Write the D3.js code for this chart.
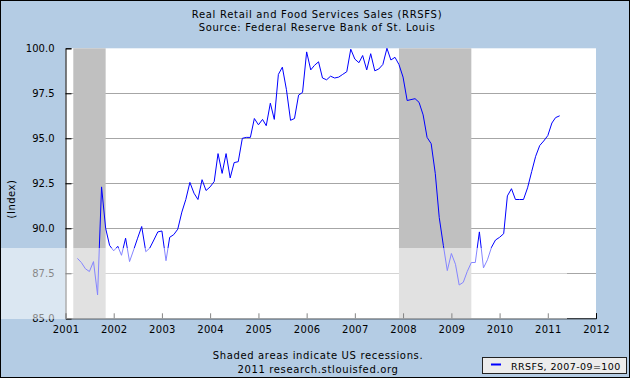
<!DOCTYPE html>
<html>
<head>
<meta charset="utf-8">
<script src="https://cdnjs.cloudflare.com/ajax/libs/d3/7.8.5/d3.min.js"></script>
<style>
  html, body { margin: 0; padding: 0; background: #fff; }
  svg { display: block; }
  text { font-family: "DejaVu Sans", Verdana, sans-serif; fill: #000; }
</style>
</head>
<body>
<svg id="chart" width="630" height="378"></svg>
<script>
// ---- data (monthly, 2001-04 .. 2011-04) ----
const startMonth = "2001-04";
const values = [
  88.33, 88.1, 87.75, 87.6, 88.15, 86.3, 92.3, 90.0, 89.05,          // 2001 Apr-Dec
  88.75, 89.0, 88.5, 89.45, 88.15, 88.8, 89.45, 90.1, 88.7, 88.9, 89.35, 89.8, // 2002
  89.85, 88.2, 89.5, 89.65, 89.95, 90.9, 91.6, 92.55, 91.95, 91.6, 92.7, 92.1, // 2003
  92.3, 92.6, 94.15, 93.05, 94.15, 92.8, 93.65, 93.7, 95.0, 95.05, 95.05, 96.1, // 2004
  95.75, 96.05, 95.7, 96.95, 96.05, 98.55, 98.95, 97.7, 96.0, 96.1, 97.4, 97.55, // 2005
  99.8, 98.8, 99.05, 99.25, 98.35, 98.25, 98.45, 98.35, 98.4, 98.55, 98.7, 99.95, // 2006
  99.4, 99.2, 99.6, 98.8, 99.7, 98.75, 98.85, 99.1, 100.0, 99.35, 99.5, 99.1, // 2007
  98.4, 97.1, 97.15, 97.2, 97.0, 96.3, 95.05, 94.7, 93.05, 90.6, 89.05, 87.65, // 2008
  88.6, 88.0, 86.85, 87.0, 87.6, 88.1, 88.1, 89.8, 87.8, 88.25, 88.95, 89.35, // 2009
  89.5, 89.7, 91.8, 92.2, 91.6, 91.6, 91.6, 92.25, 93.15, 94.0, 94.6, 94.85, // 2010
  95.15, 95.85, 96.15, 96.25                                          // 2011 Jan-Apr
];
const recessions = [["2001-03-01", "2001-11-01"], ["2007-12-01", "2009-06-01"]];
const yTicks = [85, 87.5, 90, 92.5, 95, 97.5, 100];
const gridValues = [87.5, 90, 92.5, 95, 97.5];
const xTickYears = [2001, 2002, 2003, 2004, 2005, 2006, 2007, 2008, 2009, 2010, 2011, 2012];
const titleLines = ["Real Retail and Food Services Sales (RRSFS)", "Source: Federal Reserve Bank of St. Louis"];
const footerLines = ["Shaded areas indicate US recessions.", "2011 research.stlouisfed.org"];
const legendLabel = "RRSFS, 2007-09=100";
const yLabel = "(Index)";

// ---- build ----
const parseMonth = d3.timeParse("%Y-%m");
const parseDay = d3.timeParse("%Y-%m-%d");
const t0 = parseMonth(startMonth);
const series = values.map((v, i) => ({ date: d3.timeMonth.offset(t0, i), value: v }));

const W = 630, H = 378;
const L = 65.5, R = 596, T = 48.3, B = 318.3;

const svg = d3.select("#chart");
const x = d3.scaleTime().domain([new Date(2001, 0, 1), new Date(2012, 0, 1)]).range([L, R]);
const y = d3.scaleLinear().domain([85, 100]).range([B, T]);

// background
svg.append("rect").attr("x", 0).attr("y", 0).attr("width", W).attr("height", H).attr("fill", "#b4cce4");
// plot area
svg.append("rect").attr("x", L).attr("y", T).attr("width", R - L).attr("height", B - T).attr("fill", "#ffffff");

// gridlines
svg.append("g").selectAll("line").data(gridValues).join("line")
  .attr("x1", L).attr("x2", R)
  .attr("y1", d => Math.round(y(d)) + 0.5).attr("y2", d => Math.round(y(d)) + 0.5)
  .attr("stroke", "#a6a6a6").attr("stroke-width", 1);

// recessions
svg.append("g").selectAll("rect").data(recessions).join("rect")
  .attr("x", d => x(parseDay(d[0])))
  .attr("width", d => x(parseDay(d[1])) - x(parseDay(d[0])))
  .attr("y", T).attr("height", B - T)
  .attr("fill", "#c0c0c0");

// line
const line = d3.line().x(d => x(d.date)).y(d => y(d.value));
svg.append("path").datum(series)
  .attr("d", line)
  .attr("fill", "none").attr("stroke", "#0000ff").attr("stroke-width", 1)
  .attr("stroke-linejoin", "round");

// y axis
const yAxis = d3.axisLeft(y).tickValues(yTicks).tickSize(-6).tickPadding(11).tickFormat(d3.format(".1f"));
const gy = svg.append("g").attr("transform", `translate(${L},0)`).call(yAxis);
gy.select(".domain").attr("stroke", "#000");
gy.selectAll(".tick line").attr("stroke", "#000");
gy.selectAll("text").attr("font-size", 10).attr("font-family", "DejaVu Sans").attr("fill", "#000");

// x axis
const xAxis = d3.axisBottom(x).tickValues(xTickYears.map(yr => new Date(yr, 0, 1)))
  .tickSize(-5).tickPadding(8).tickFormat(d3.timeFormat("%Y"));
const gx = svg.append("g").attr("transform", `translate(0,${B})`).call(xAxis);
gx.select(".domain").attr("stroke", "#000");
gx.selectAll(".tick line").attr("stroke", "#000");
gx.selectAll("text").attr("font-size", 10).attr("font-family", "DejaVu Sans").attr("fill", "#000")
  .attr("letter-spacing", 0.3);

// watermark-like light band
svg.append("rect").attr("x", 0).attr("y", 248).attr("width", 567).attr("height", 71)
  .attr("fill", "#ffffff").attr("fill-opacity", 0.52);

// titles
svg.append("g").selectAll("text").data(titleLines).join("text")
  .attr("x", 317).attr("y", (d, i) => 18 + i * 13)
  .attr("text-anchor", "middle").attr("font-size", 10).attr("letter-spacing", 0.7).text(d => d);

// y label
svg.append("text").attr("transform", "translate(15,199) rotate(-90)")
  .attr("text-anchor", "middle").attr("font-size", 10).attr("letter-spacing", 0.5).text(yLabel);

// footer
svg.append("g").selectAll("text").data(footerLines).join("text")
  .attr("x", 318).attr("y", (d, i) => 359 + i * 14)
  .attr("text-anchor", "middle").attr("font-size", 10).attr("letter-spacing", 0.65).text(d => d);

// legend
const lg = svg.append("g");
lg.append("rect").attr("x", 482.5).attr("y", 357.5).attr("width", 144).attr("height", 16)
  .attr("fill", "#ececec").attr("stroke", "#222").attr("stroke-width", 1);
lg.append("line").attr("x1", 491).attr("x2", 501).attr("y1", 364.5).attr("y2", 364.5)
  .attr("stroke", "#0000ff").attr("stroke-width", 2);
lg.append("text").attr("x", 511).attr("y", 369.5).attr("font-size", 9.5)
  .attr("letter-spacing", 0.4).text(legendLabel);

// frame
svg.append("rect").attr("x", 0.5).attr("y", 0.5).attr("width", W - 1).attr("height", H - 1)
  .attr("fill", "none").attr("stroke", "#000");
</script>
</body>
</html>
